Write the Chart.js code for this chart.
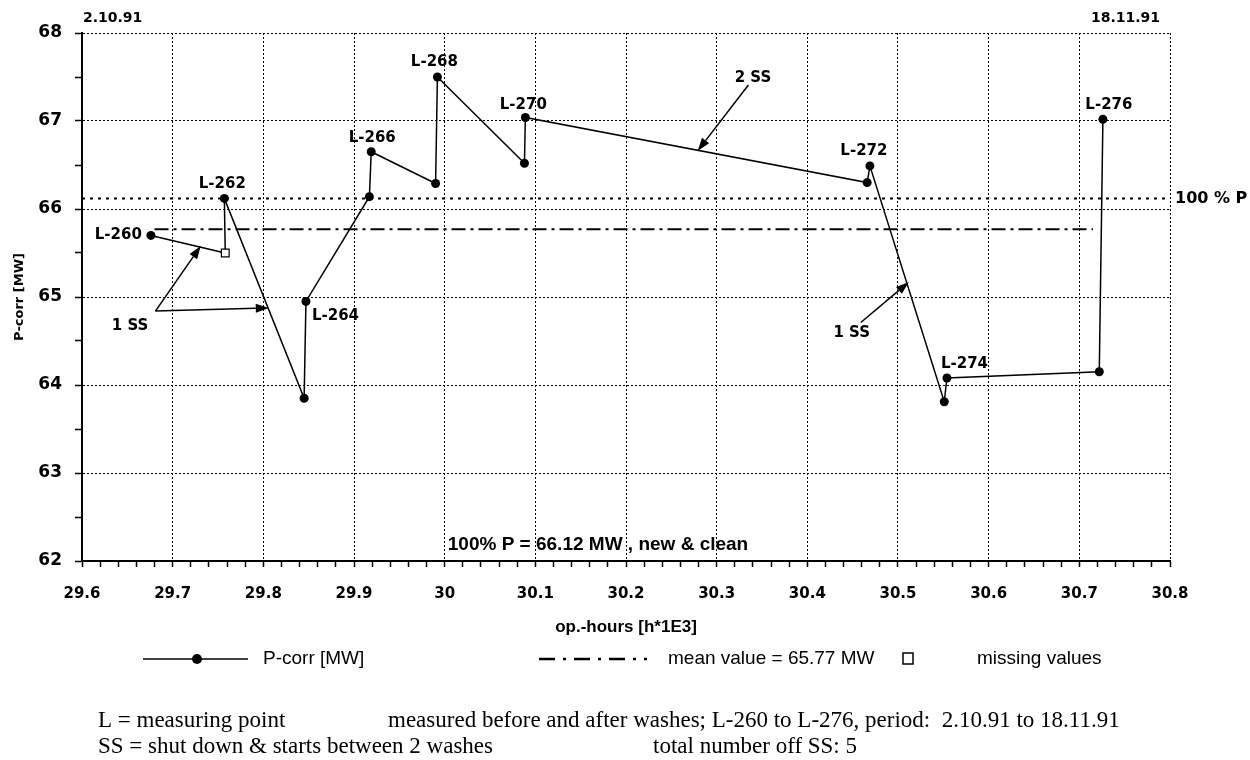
<!DOCTYPE html>
<html><head><meta charset="utf-8">
<script src="https://cdn.jsdelivr.net/npm/chart.js@4"></script>
<style>html,body{margin:0;padding:0;background:#fff}canvas{display:block}</style>
</head><body>
<canvas id="c" width="1250" height="760"></canvas>
<script>
// ---- data ----
const opHours = [29.676, 29.758, 29.757, 29.845, 29.847, 29.917, 29.919, 29.990, 29.992, 30.088, 30.089, 30.466, 30.469, 30.551, 30.554, 30.722, 30.726];
const pCorr   = [65.70, 65.50, 66.12, 63.85, 64.95, 66.14, 66.65, 66.29, 67.50, 66.52, 67.04, 66.30, 66.49, 63.81, 64.08, 64.15, 67.02];
const pointNames = ['L-260', '', 'L-262', '', 'L-264', '', 'L-266', '', 'L-268', '', 'L-270', '', 'L-272', '', 'L-274', '', 'L-276'];
const missingHours = [29.758];
const missingP = [65.50];
const meanHours = [29.68, 30.715];
const meanValue = 65.77;
const refHours = [29.6, 30.8];
const refValue = 66.12;
const xMin = 29.6, xMax = 30.8, xMinorStep = 0.02, xMajorStep = 0.1;
const yMin = 62, yMax = 68, yMinorStep = 0.5;
const startDate = '2.10.91', endDate = '18.11.91';
const ssNotes = [
  {text: '2 SS', at: [30.34, 67.49], arrows: [[[30.335, 67.41], [30.279, 66.66]]]},
  {text: '1 SS', at: [29.653, 64.67], arrows: [[[29.681, 64.84], [29.731, 65.58]], [[29.681, 64.84], [29.806, 64.875]]]},
  {text: '1 SS', at: [30.449, 64.59], arrows: [[[30.459, 64.71], [30.512, 65.17]]]}
];

// ---- styling / layout ----
const SANS = '"Liberation Sans", Arial, sans-serif';
const BOLDSANS = '"DejaVu Sans", "Liberation Sans", Arial, sans-serif';
const SERIF = '"Liberation Serif", "Times New Roman", serif';
const labelPlace = {
  'L-260': {dx: -9, dy: 0, align: 'right'},
  'L-262': {dx: -2, dy: -14, align: 'center'},
  'L-264': {dx: 6, dy: 15, align: 'left'},
  'L-266': {dx: 1, dy: -14, align: 'center'},
  'L-268': {dx: -3, dy: -15, align: 'center'},
  'L-270': {dx: -2, dy: -12, align: 'center'},
  'L-272': {dx: -6, dy: -15, align: 'center'},
  'L-274': {dx: -6, dy: -14, align: 'left'},
  'L-276': {dx: 6, dy: -14, align: 'center'}
};
const near = (v, step) => Math.abs(v / step - Math.round(v / step)) < 1e-6;
const isMissing = i => missingHours.some((h, k) => h === opHours[i] && missingP[k] === pCorr[i]);

function arrow(ctx, x1, y1, x2, y2) {
  const ang = Math.atan2(y2 - y1, x2 - x1);
  const L = 13, W = 4.5;
  const bx = x2 - L * Math.cos(ang), by = y2 - L * Math.sin(ang);
  ctx.beginPath(); ctx.moveTo(x1, y1); ctx.lineTo(bx, by); ctx.lineWidth = 1.5; ctx.stroke();
  ctx.beginPath(); ctx.moveTo(x2, y2);
  ctx.lineTo(bx + W * Math.sin(ang), by - W * Math.cos(ang));
  ctx.lineTo(bx - W * Math.sin(ang), by + W * Math.cos(ang));
  ctx.closePath(); ctx.fill();
}

const annot = {
  id: 'annot',
  afterDatasetsDraw(chart) {
    const {ctx, scales: {x, y}, chartArea: ca} = chart;
    ctx.save();
    ctx.fillStyle = '#000'; ctx.strokeStyle = '#000';
    ctx.textBaseline = 'middle';
    ctx.font = 'bold 15px ' + BOLDSANS;
    pointNames.forEach((n, i) => {
      if (!n) return;
      const p = labelPlace[n];
      ctx.textAlign = p.align;
      ctx.fillText(n, x.getPixelForValue(opHours[i]) + p.dx, y.getPixelForValue(pCorr[i]) + p.dy);
    });
    ssNotes.forEach(s => {
      ctx.font = 'bold 15px ' + BOLDSANS;
      ctx.textAlign = 'center';
      ctx.fillText(s.text, x.getPixelForValue(s.at[0]), y.getPixelForValue(s.at[1]));
      s.arrows.forEach(a => arrow(ctx, x.getPixelForValue(a[0][0]), y.getPixelForValue(a[0][1]), x.getPixelForValue(a[1][0]), y.getPixelForValue(a[1][1])));
    });
    ctx.font = 'bold 14px ' + BOLDSANS;
    ctx.textAlign = 'left';
    ctx.fillText(startDate, ca.left + 1, 18);
    ctx.textAlign = 'right';
    ctx.fillText(endDate, ca.right - 10, 18);
    ctx.font = 'bold 16px ' + BOLDSANS;
    ctx.textAlign = 'left';
    ctx.fillText('100 % P', ca.right + 5, y.getPixelForValue(refValue));
    ctx.font = 'bold 19px ' + SANS;
    ctx.textAlign = 'center';
    ctx.fillText('100% P = ' + refValue.toFixed(2) + ' MW , new & clean', 598, ca.bottom - 16);
    ctx.restore();
  },
  afterDraw(chart) {
    const {ctx} = chart;
    ctx.save();
    ctx.fillStyle = '#000'; ctx.strokeStyle = '#000';
    ctx.textBaseline = 'middle'; ctx.textAlign = 'left';
    const ly = 659;
    ctx.lineWidth = 1.5; ctx.setLineDash([]);
    ctx.beginPath(); ctx.moveTo(143, ly); ctx.lineTo(248, ly); ctx.stroke();
    ctx.beginPath(); ctx.arc(197, ly, 5, 0, Math.PI * 2); ctx.fill();
    ctx.font = '19px ' + SANS;
    ctx.fillText('P-corr [MW]', 263, ly);
    ctx.lineWidth = 2.5; ctx.setLineDash([16, 8, 3, 8]);
    ctx.beginPath(); ctx.moveTo(539, ly); ctx.lineTo(647, ly); ctx.stroke();
    ctx.setLineDash([]);
    ctx.fillText('mean value = ' + meanValue.toFixed(2) + ' MW', 668, ly);
    ctx.lineWidth = 1.5;
    ctx.fillStyle = '#fff'; ctx.fillRect(903, ly - 6, 10, 11); ctx.strokeRect(903, ly - 6, 10, 11);
    ctx.fillStyle = '#000';
    ctx.fillText('missing values', 977, ly);
    ctx.textBaseline = 'alphabetic';
    ctx.font = '23px ' + SERIF;
    ctx.fillText('L = measuring point', 98, 727);
    ctx.fillText('measured before and after washes; L-260 to L-276, period:  ' + startDate + ' to ' + endDate, 388, 727);
    ctx.fillText('SS = shut down & starts between 2 washes', 98, 753);
    ctx.fillText('total number off SS: 5', 653, 753);
    ctx.restore();
  }
};

const mainData = opHours.map((h, i) => ({x: h, y: pCorr[i]}));
new Chart(document.getElementById('c'), {
  type: 'scatter',
  data: {
    datasets: [
      {label: 'missing values', data: missingHours.map((h, i) => ({x: h, y: missingP[i]})),
       pointStyle: 'rect', pointRadius: 5.5, pointBackgroundColor: '#fff', pointBorderColor: '#000', pointBorderWidth: 1.2, showLine: false},
      {label: 'P-corr [MW]', data: mainData, showLine: true, borderColor: '#000', borderWidth: 1.5,
       pointRadius: c => isMissing(c.dataIndex) ? 0 : 4.5, pointBackgroundColor: '#000', pointBorderWidth: 0},
      {label: 'mean value', data: meanHours.map(h => ({x: h, y: meanValue})), showLine: true, borderColor: '#000',
       borderWidth: 2, borderDash: [14, 5, 3, 5], pointRadius: 0},
      {label: '100 % P', data: refHours.map(h => ({x: h, y: refValue})), showLine: true, borderColor: '#000',
       borderWidth: 2, borderDash: [3, 5], pointRadius: 0}
    ]
  },
  options: {
    responsive: false,
    animation: false,
    devicePixelRatio: 1,
    layout: {padding: {left: 0, top: 33, right: 80, bottom: 0}},
    plugins: {legend: {display: false}, tooltip: {enabled: false}},
    scales: {
      x: {
        type: 'linear', min: xMin, max: xMax,
        afterFit(s) { s.height = 199; },
        ticks: {stepSize: xMinorStep, autoSkip: false, maxRotation: 0, minRotation: 0, padding: 18,
          color: '#000', font: {family: BOLDSANS, size: 15, weight: 'bold'},
          callback: v => near(v, xMajorStep) ? String(Number(v.toFixed(1))) : ''},
        grid: {color: c => near(c.tick.value, xMajorStep) ? '#000' : 'rgba(0,0,0,0)', lineWidth: 1,
          tickColor: '#000', tickLength: 6, tickWidth: 1.5},
        border: {display: true, color: '#000', width: 2, dash: [2, 2]},
        title: {display: true, text: 'op.-hours [h*1E3]', color: '#000',
          font: {family: SANS, size: 17, weight: 'bold'}, padding: {top: 0, bottom: 122}}
      },
      y: {
        type: 'linear', min: yMin, max: yMax,
        afterFit(s) { s.width = 82; },
        ticks: {stepSize: yMinorStep, padding: 13, color: '#000', font: {family: BOLDSANS, size: 17, weight: 'bold'},
          callback: v => near(v, 1) ? String(v) : ''},
        grid: {color: c => near(c.tick.value, 1) ? '#000' : 'rgba(0,0,0,0)', lineWidth: 1,
          tickColor: '#000', tickLength: 7, tickWidth: 1.5},
        border: {display: true, color: '#000', width: 2, dash: [2, 2]},
        title: {display: true, text: 'P-corr [MW]', color: '#000',
          font: {family: BOLDSANS, size: 13, weight: 'bold'}, padding: {top: 12, bottom: 0}}
      }
    }
  },
  plugins: [annot]
});
</script>
</body></html>
